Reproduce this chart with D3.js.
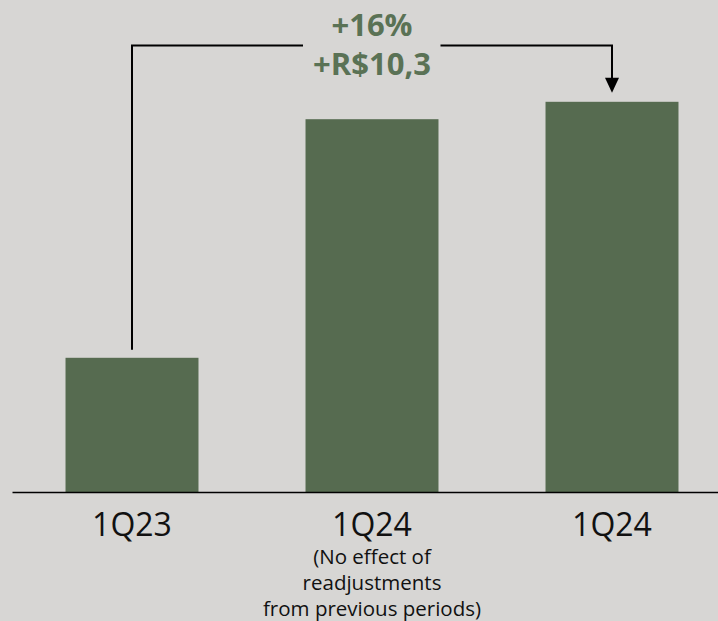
<!DOCTYPE html>
<html>
<head>
<meta charset="utf-8">
<script src="https://cdn.jsdelivr.net/npm/d3@7"></script>
<style>
  html, body { margin: 0; padding: 0; background: #d7d6d4; }
  svg { display: block; }
</style>
</head>
<body>
<svg id="chart" width="718" height="621"></svg>
<script>
// ---- data ----
const categories = ["1Q23", "1Q24 adj", "1Q24"];
const labels = ["1Q23", "1Q24", "1Q24"];
const subLabels = [[], ["(No effect of", "readjustments", "from previous periods)"], []];
const values = [64.4, 74.0, 74.7];
const axisBase = 59; // truncated value axis baseline

// ---- style ----
const W = 718, H = 621;
const bg = "#d7d6d4";
const barColor = "#566b50";
const annColor = "#5a7255";
const font = "'Open Sans', 'Noto Sans', sans-serif";

const svg = d3.select("#chart");
svg.append("rect").attr("width", W).attr("height", H).attr("fill", bg);

const baseY = 492;
const x = d3.scaleBand().domain(categories).range([12, 732])
  .paddingInner(0.446).paddingOuter(0.223);
const y = d3.scaleLinear().domain([axisBase, d3.max(values)]).range([baseY, 101.8]);

// bars
svg.append("g").selectAll("rect").data(categories).join("rect")
  .attr("x", d => x(d))
  .attr("width", x.bandwidth())
  .attr("y", (d, i) => y(values[i]))
  .attr("height", (d, i) => baseY - y(values[i]))
  .attr("fill", barColor);

// axis
const axis = d3.axisBottom(x).tickSize(0).tickSizeOuter(0).tickFormat((d, i) => labels[i]);
const gx = svg.append("g").attr("transform", `translate(0,${baseY})`).call(axis);
gx.select(".domain").attr("stroke", "#000").attr("stroke-width", 1.6);
gx.selectAll(".tick text")
  .attr("y", 44).attr("dy", 0)
  .attr("font-family", font).attr("font-size", 32).attr("fill", "#111");

// sub labels
gx.selectAll(".tick").each(function(d, i) {
  const g = d3.select(this);
  subLabels[i].forEach((t, k) => {
    g.append("text").attr("y", 72 + k * 26).attr("text-anchor", "middle")
      .attr("font-family", font).attr("font-size", 20.5).attr("fill", "#111").text(t);
  });
});

// annotation bracket
const c0 = x(categories[0]) + x.bandwidth() / 2;
const c2 = x(categories[2]) + x.bandwidth() / 2;
const lineY = 45.5;
const gapL = 303, gapR = 440.5;
const topStart = y(values[0]) - 8;
const arrowTip = y(values[2]) - 9;
const ann = svg.append("g").attr("stroke", "#000").attr("stroke-width", 2).attr("fill", "none");
ann.append("path").attr("d", `M${c0},${topStart}V${lineY}H${gapL}`);
ann.append("path").attr("d", `M${gapR},${lineY}H${c2}V${arrowTip - 14}`);
svg.append("path")
  .attr("d", `M${c2 - 7},${arrowTip - 15}L${c2 + 7},${arrowTip - 15}L${c2},${arrowTip}Z`)
  .attr("fill", "#000");

const diff = values[2] - values[0];
const pct = Math.round((values[2] / values[0] - 1) * 100);
const mid = (c0 + c2) / 2;
svg.append("text").attr("x", mid).attr("y", 35.5).attr("text-anchor", "middle")
  .attr("font-family", font).attr("font-weight", "bold").attr("font-size", 31)
  .attr("fill", annColor).text(`+${pct}%`);
svg.append("text").attr("x", mid).attr("y", 75).attr("text-anchor", "middle")
  .attr("font-family", font).attr("font-weight", "bold").attr("font-size", 31)
  .attr("fill", annColor).text(`+R$${diff.toFixed(1).replace(".", ",")}`);
</script>
</body>
</html>
